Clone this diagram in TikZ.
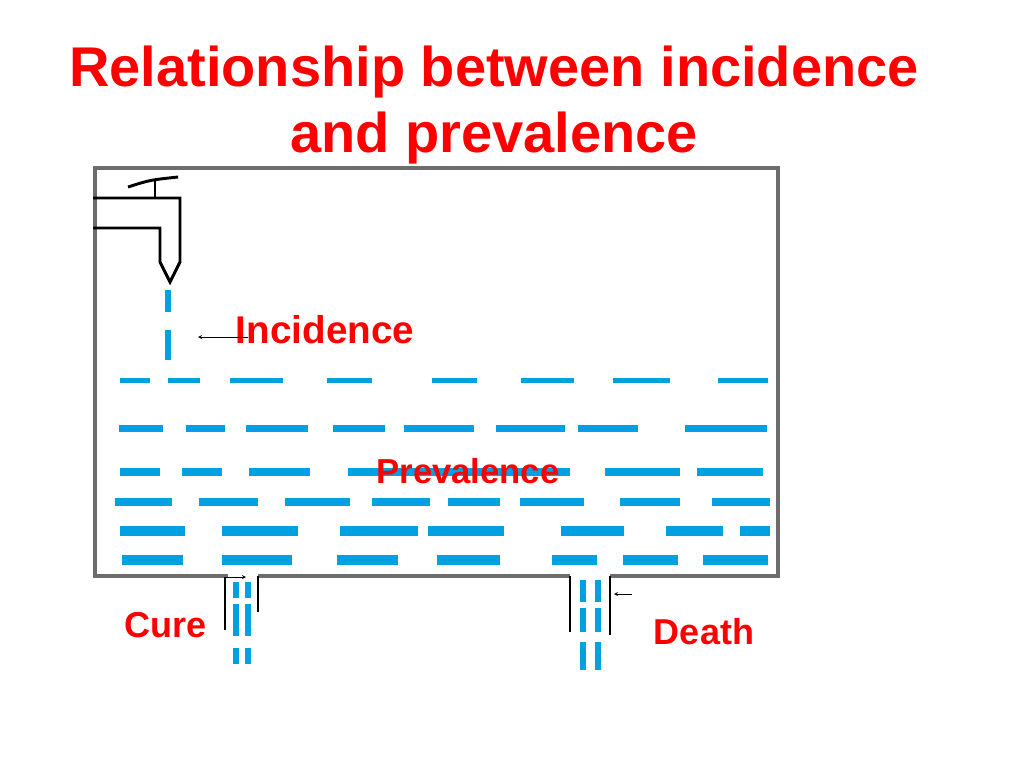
\documentclass[tikz,border=0pt]{standalone}
\usepackage{fontspec}
\setmainfont{Liberation Sans}
\begin{document}
\begin{tikzpicture}[x=0.75pt,y=-0.75pt,
  tank/.style={draw=gray!85!black,line width=3.5pt},
  pipe/.style={draw=black,line width=2.2pt},
  water/.style={draw=cyan!60!blue!80,line cap=butt},
  lbl/.style={text=red,font=\bfseries}]
\useasboundingbox (0,0) rectangle (1024,768);
\definecolor{wat}{RGB}{0,160,225}
% title
\node[lbl,font=\bfseries\fontsize{42}{48}\selectfont] (t1) at (494,72) {Relationship between incidence};
\node[lbl,font=\bfseries\fontsize{42}{48}\selectfont] (t2) at (494,138) {and prevalence};
% tank
\draw[tank] (228,576) -- (95,576) -- (95,168) -- (778,168) -- (778,576) -- (610,576);
\draw[tank] (258,576) -- (570,576);
% tap
\draw[pipe] (93,198) -- (180,198) -- (180,262) -- (170,282) -- (160,262) -- (160,228) -- (93,228);
\draw[pipe] (128,187) .. controls (150,180) .. (178,177);
\draw[pipe] (155,181) -- (155,198);
% falling water
\foreach \a/\b in {290/312,330/360}
  \draw[wat,line width=4pt] (168,\a) -- (168,\b);
% water rows
\foreach \y/\w/\segs in {
 380/5/{120/150,168/200,230/283,327/372,432/477,521/574,613/670,718/768},
 428/7/{119/163,186/225,246/308,333/385,404/474,496/565,578/638,685/767},
 472/8/{120/160,182/222,249/310,348/570,605/680,697/763},
 502/8/{115/172,199/258,285/350,372/430,448/500,520/584,620/680,712/770},
 531/10/{120/185,222/298,340/418,428/504,561/624,666/723,740/770},
 560/10/{122/183,222/292,337/398,437/500,552/597,623/678,703/768}}
 {\foreach \a/\b in \segs \draw[wat,line width=\w*0.75pt] (\a,\y) -- (\b,\y);}
% outlets
\draw[pipe,line width=1.8pt] (225,578) -- (225,630);
\draw[pipe,line width=1.8pt] (258,576) -- (258,612);
\draw[pipe,line width=1.8pt] (570,576) -- (570,632);
\draw[pipe,line width=1.8pt] (610,576) -- (610,635);
\foreach \x in {236,248}{
 \foreach \a/\b in {582/598,604/636,648/664} \draw[wat,line width=4.5pt] (\x,\a) -- (\x,\b);}
\foreach \x in {583,598}{
 \foreach \a/\b in {580/602,608/632,642/670} \draw[wat,line width=5pt] (\x,\a) -- (\x,\b);}
% labels
\node[lbl,font=\bfseries\fontsize{29}{34}\selectfont] (inc) at (325,330) {Incidence};
\node[lbl,font=\bfseries\fontsize{26}{30}\selectfont] (prev) at (468,471) {Prevalence};
\node[lbl,font=\bfseries\fontsize{27}{32}\selectfont] (cure) at (166,625) {Cure};
\node[lbl,font=\bfseries\fontsize{27}{32}\selectfont] (death) at (704,632) {Death};
\coordinate (ia) at (248,337); \coordinate (ib) at (198,337);
\draw[-stealth,thin] (ia) -- (ib);
\coordinate (ca) at (224,577); \coordinate (cb) at (246,577);
\draw[-stealth,thin] (ca) -- (cb);
\coordinate (da) at (632,594); \coordinate (db) at (614,594);
\draw[-stealth,thin] (da) -- (db);
\end{tikzpicture}
\end{document}
